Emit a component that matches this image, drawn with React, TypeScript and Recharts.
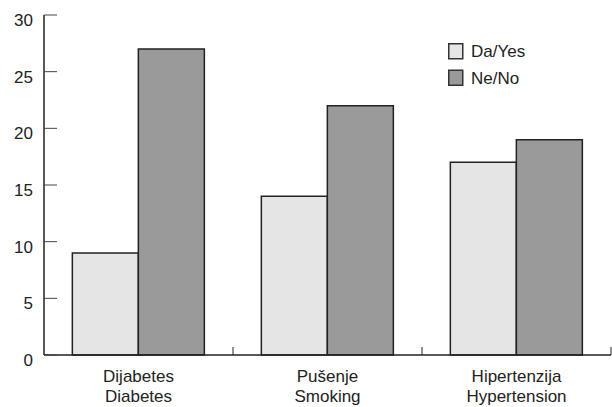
import React from 'react';
import { BarChart, Bar, XAxis, YAxis, Legend } from 'recharts';

const categories = ['Dijabetes|Diabetes', 'Pušenje|Smoking', 'Hipertenzija|Hypertension'];
const yesValues = [9, 14, 17];
const noValues = [27, 22, 19];
const yTicks = [0, 5, 10, 15, 20, 25, 30];
const seriesNames = ['Da/Yes', 'Ne/No'];

const data = categories.map((c, i) => ({ cat: c, yes: yesValues[i], no: noValues[i] }));

const FONT = '"Liberation Sans", Arial, Helvetica, sans-serif';
const TEXT = '#222';

const XTick = (props: any) => {
  const { x, y, payload } = props;
  const [l1, l2] = String(payload.value).split('|');
  const off = payload.offset ?? 94.5;
  return (
    <g>
      <line x1={x + off} x2={x + off} y1={y - 8} y2={y} stroke="#222" strokeWidth={1} />
      <text x={x} y={y + 27} textAnchor="middle" fontFamily={FONT} fontSize={17} fill={TEXT}>{l1}</text>
      <text x={x} y={y + 47} textAnchor="middle" fontFamily={FONT} fontSize={17} fill={TEXT}>{l2}</text>
    </g>
  );
};

const YTick = (props: any) => {
  const { x, y, payload } = props;
  return (
    <text x={x} y={y + 11} textAnchor="end" fontFamily={FONT} fontSize={17} fill={TEXT}>{payload.value}</text>
  );
};

const LegendContent = (props: any) => {
  const { payload } = props;
  return (
    <svg width={120} height={50} style={{ display: 'block' }}>
      {(payload || []).map((p: any, i: number) => (
        <g key={i}>
          <rect x={0.75} y={0.75 + i * 26.5} width={14} height={15} fill={p.color} stroke="#333" strokeWidth={1.5} />
          <text x={23} y={14 + i * 26.5} fontFamily={FONT} fontSize={17} fill={TEXT}>{p.value}</text>
        </g>
      ))}
    </svg>
  );
};

export default function App() {
  return (
    <div style={{ position: 'absolute', left: 0, top: 0, width: 612, height: 407, background: '#fff' }}>
      <BarChart
        width={612}
        height={407}
        data={data}
        margin={{ top: 15, right: 1, left: 0, bottom: 0 }}
        barCategoryGap="15%"
        barGap={0}
      >
        <XAxis
          dataKey="cat"
          height={52}
          tickLine={false}
          tickSize={0}
          tickMargin={0}
          axisLine={{ stroke: '#222', strokeWidth: 1.5 }}
          tick={<XTick />}
          interval={0}
        />
        <YAxis
          width={44}
          domain={[0, 30]}
          ticks={yTicks}
          tickSize={-13}
          tickMargin={24}
          axisLine={{ stroke: '#222', strokeWidth: 1.5 }}
          tickLine={{ stroke: '#444', strokeWidth: 1 }}
          tick={<YTick />}
        />
        <Legend
          layout="horizontal"
          verticalAlign="middle"
          align="center"
          content={<LegendContent />}
          wrapperStyle={{ left: 448, top: 43, width: 120 }}
        />
        <Bar dataKey="yes" name={seriesNames[0]} fill="#e5e5e5" stroke="#222" strokeWidth={1.5} isAnimationActive={false} />
        <Bar dataKey="no" name={seriesNames[1]} fill="#9a9a9a" stroke="#222" strokeWidth={1.5} isAnimationActive={false} />
      </BarChart>
    </div>
  );
}
